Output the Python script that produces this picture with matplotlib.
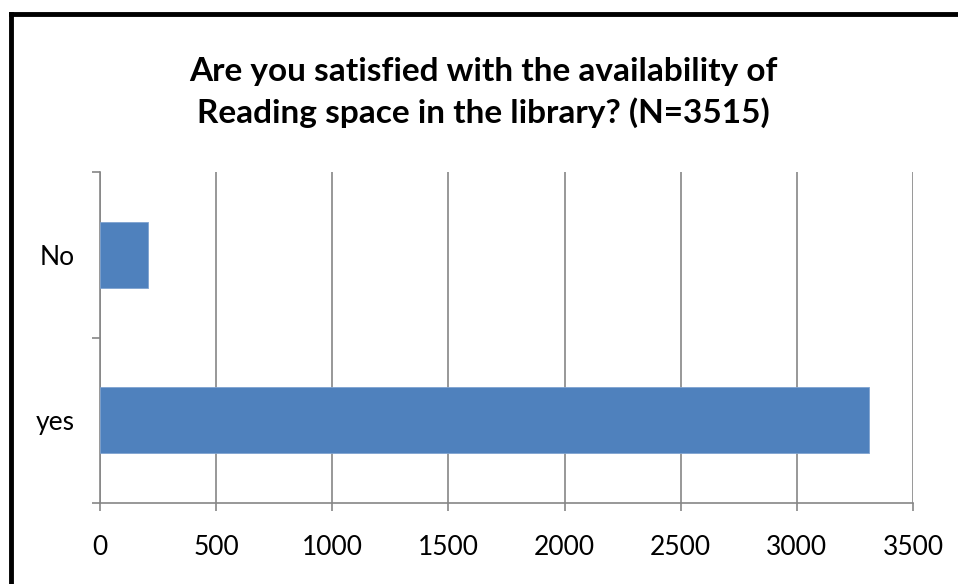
import matplotlib
matplotlib.use("Agg")
import matplotlib.pyplot as plt
from matplotlib.lines import Line2D

# Réponses à l'enquête sur l'espace de lecture
categories = ["yes", "No"]
valeurs = [3310, 205]
graduations = [0, 500, 1000, 1500, 2000, 2500, 3000, 3500]

titre = "Are you satisfied with the availability of\nReading space in the library? (N=3515)"

plt.rcParams["font.family"] = ["Lato", "DejaVu Sans"]

fig = plt.figure(figsize=(9.58, 5.84), dpi=100)
ax = fig.add_axes([100 / 958, 1 - 503 / 584, 813 / 958, 331 / 584])

gris = "#868686"
positions = list(range(len(categories)))
ax.barh(positions, valeurs, height=0.4, color="#4F81BD", edgecolor="#7FA3D0", linewidth=0.6, zorder=3)

ax.set_xlim(0, 3500)
ax.set_ylim(-0.5, len(categories) - 0.5)
ax.set_xticks(graduations)
ax.set_xticklabels([str(g) for g in graduations], fontsize=19)

# traits entre les catégories, étiquettes au centre
ax.set_yticks([-0.5, 0.5, 1.5])
ax.set_yticklabels([])
ax.set_yticks(positions, minor=True)
ax.set_yticklabels(categories, minor=True, fontsize=19)
ax.tick_params(axis="y", which="minor", length=0, pad=18)
ax.tick_params(axis="y", which="major", length=6, width=1.2, color=gris, direction="out")
ax.tick_params(axis="x", length=6, width=1.2, color=gris, direction="out", pad=17)

ax.grid(axis="x", color=gris, linewidth=1.2, zorder=0)
for cote in ["top", "right"]:
    ax.spines[cote].set_visible(False)
for cote in ["left", "bottom"]:
    ax.spines[cote].set_color(gris)
    ax.spines[cote].set_linewidth(1.2)

fig.text(483 / 958, 1 - 57 / 584, titre, ha="center", va="top", fontsize=24,
         fontweight="bold", linespacing=1.42)

# cadre noir du graphique
fig.add_artist(Line2D([10.5 / 958, 10.5 / 958], [-0.1, 1 - 14 / 584], color="black", linewidth=3.5))
fig.add_artist(Line2D([10.5 / 958, 1.1], [1 - 14 / 584, 1 - 14 / 584], color="black", linewidth=3.5))

fig.savefig("out.png", dpi=100)
